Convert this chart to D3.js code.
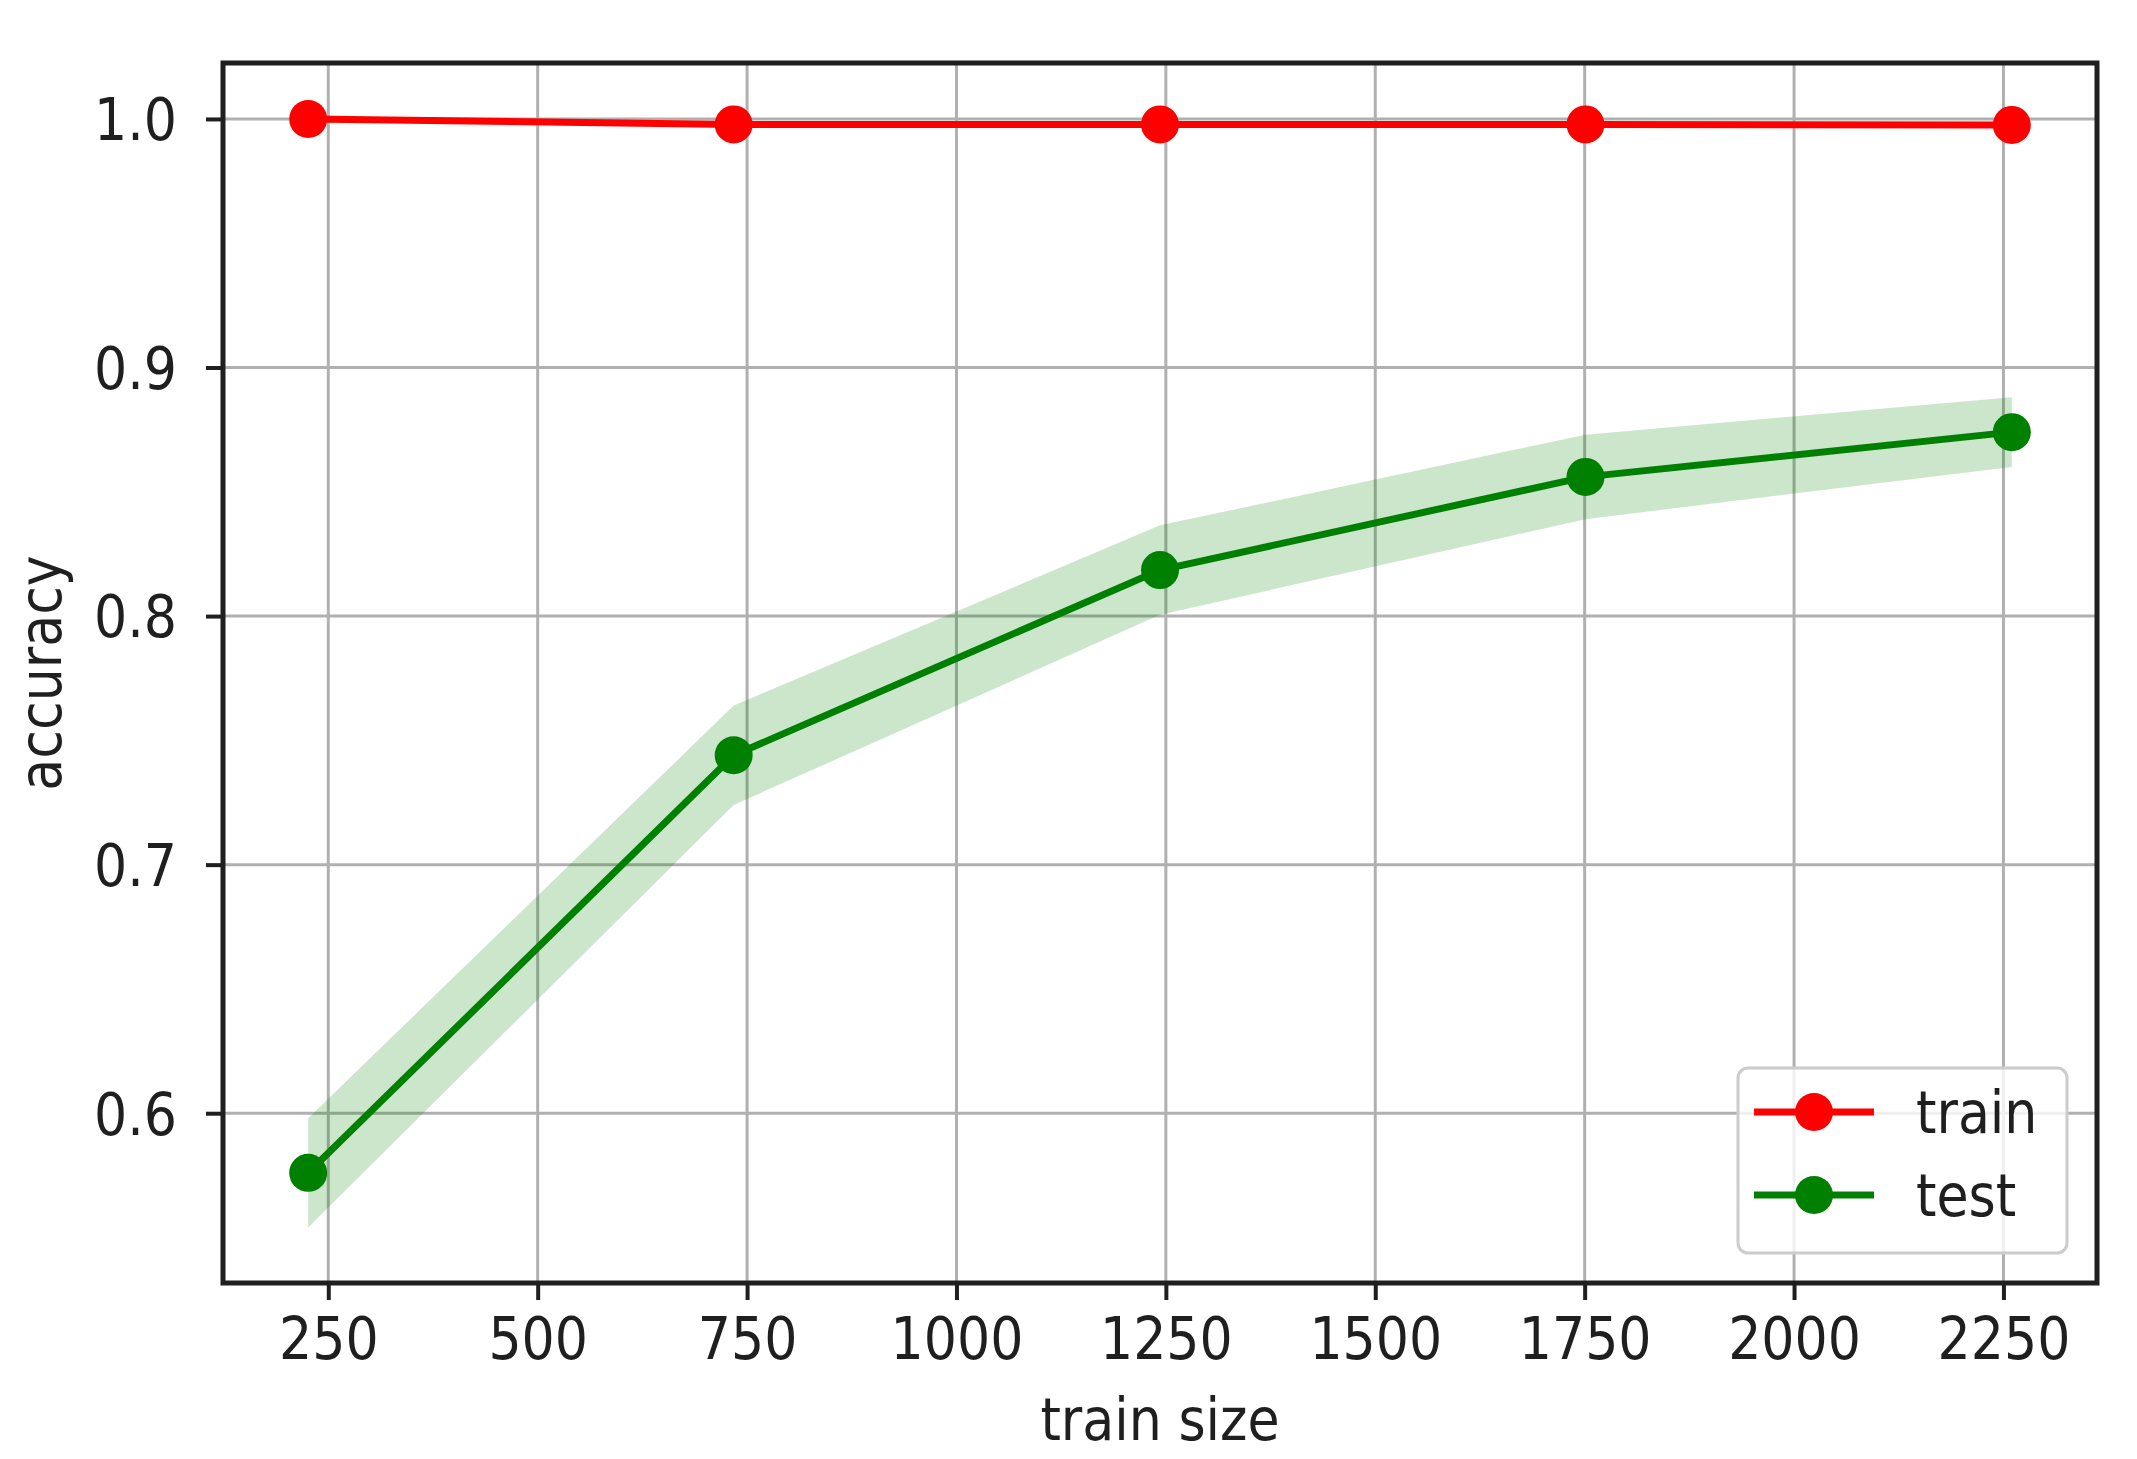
<!DOCTYPE html>
<html>
<head>
<meta charset="utf-8">
<style>
  body { margin: 0; background: #fff; }
  text { font-family: "DejaVu Sans Condensed", "DejaVu Sans", sans-serif; fill: #1f1f1f; }
</style>
</head>
<body>
<div id="chart"></div>
<script src="https://cdnjs.cloudflare.com/ajax/libs/d3/7.8.5/d3.min.js"></script>
<script>
  // learning curve values
  const trainSizes = [226, 734, 1243, 1751, 2260];
  const trainMean = [1.0, 0.9978, 0.9978, 0.9978, 0.9976];
  const trainStd = [0.0002, 0.0008, 0.0006, 0.0005, 0.0006];
  const testMean = [0.576, 0.744, 0.8185, 0.856, 0.874];
  const testStd = [0.022, 0.020, 0.018, 0.017, 0.014];
  const xTicks = [250, 500, 750, 1000, 1250, 1500, 1750, 2000, 2250];
  const yTicks = [0.6, 0.7, 0.8, 0.9, 1.0];
  const seriesNames = ["train", "test"];
  const seriesColors = ["#ff0000", "#008000"];

  const width = 2137;
  const height = 1459;
  const margin = {top: 63, right: 40, bottom: 176, left: 223};
  const fontSize = 58;

  const series = [
    {name: seriesNames[0], color: seriesColors[0],
     values: trainSizes.map((x, i) => ({x, m: trainMean[i], s: trainStd[i]}))},
    {name: seriesNames[1], color: seriesColors[1],
     values: trainSizes.map((x, i) => ({x, m: testMean[i], s: testStd[i]}))}
  ];

  // matplotlib style 5% margins around the data
  function padded(lo, hi) {
    const p = (hi - lo) * 0.05;
    return [lo - p, hi + p];
  }
  const allLo = d3.min(series, d => d3.min(d.values, v => v.m - v.s));
  const allHi = d3.max(series, d => d3.max(d.values, v => v.m + v.s));

  const x = d3.scaleLinear()
    .domain(padded(d3.min(trainSizes), d3.max(trainSizes)))
    .range([margin.left, width - margin.right]);
  const y = d3.scaleLinear()
    .domain(padded(allLo, allHi))
    .range([height - margin.bottom, margin.top]);

  const svg = d3.create("svg")
    .attr("width", width)
    .attr("height", height)
    .attr("viewBox", [0, 0, width, height]);

  svg.append("rect").attr("width", width).attr("height", height).attr("fill", "#fff");

  // grid
  const grid = svg.append("g").attr("stroke", "#b0b0b0").attr("stroke-width", 3);
  grid.selectAll(".vx").data(xTicks).join("line")
    .attr("x1", d => x(d)).attr("x2", d => x(d))
    .attr("y1", margin.top).attr("y2", height - margin.bottom);
  grid.selectAll(".hy").data(yTicks).join("line")
    .attr("y1", d => y(d)).attr("y2", d => y(d))
    .attr("x1", margin.left).attr("x2", width - margin.right);

  // std bands
  const area = d3.area()
    .x(d => x(d.x))
    .y0(d => y(d.m - d.s))
    .y1(d => y(d.m + d.s));
  svg.append("g").selectAll("path").data(series).join("path")
    .attr("d", d => area(d.values))
    .attr("fill", d => d.color)
    .attr("fill-opacity", 0.2);

  // mean lines + markers
  const line = d3.line().x(d => x(d.x)).y(d => y(d.m));
  const sg = svg.append("g").selectAll("g").data(series).join("g");
  sg.append("path")
    .attr("d", d => line(d.values))
    .attr("fill", "none")
    .attr("stroke", d => d.color)
    .attr("stroke-width", 7);
  sg.selectAll("circle").data(d => d.values.map(v => ({...v, color: d.color}))).join("circle")
    .attr("cx", d => x(d.x))
    .attr("cy", d => y(d.m))
    .attr("r", 19)
    .attr("fill", d => d.color);

  // axes
  const xAxis = svg.append("g")
    .attr("transform", `translate(0,${height - margin.bottom})`)
    .call(d3.axisBottom(x).tickValues(xTicks).tickSize(17).tickPadding(18).tickFormat(d3.format("d")));
  const yAxis = svg.append("g")
    .attr("transform", `translate(${margin.left},0)`)
    .call(d3.axisLeft(y).tickValues(yTicks).tickSize(17).tickPadding(29).tickFormat(d3.format(".1f")));
  [xAxis, yAxis].forEach(a => {
    a.select(".domain").remove();
    a.selectAll(".tick line").attr("stroke", "#1f1f1f").attr("stroke-width", 4);
    a.selectAll(".tick text").attr("font-size", fontSize).attr("font-family", null).attr("fill", "#1f1f1f");
  });
  yAxis.selectAll(".tick text").attr("dy", "0.36em");

  // frame
  svg.append("rect")
    .attr("x", margin.left).attr("y", margin.top)
    .attr("width", width - margin.left - margin.right)
    .attr("height", height - margin.top - margin.bottom)
    .attr("fill", "none")
    .attr("stroke", "#1f1f1f")
    .attr("stroke-width", 5);

  // axis titles
  svg.append("text")
    .attr("x", (margin.left + width - margin.right) / 2)
    .attr("y", 1440)
    .attr("text-anchor", "middle")
    .attr("font-size", fontSize)
    .text("train size");
  svg.append("text")
    .attr("transform", `translate(61,${(margin.top + height - margin.bottom) / 2}) rotate(-90)`)
    .attr("text-anchor", "middle")
    .attr("font-size", fontSize)
    .text("accuracy");

  // legend, lower right
  const legend = svg.append("g").attr("transform", "translate(1738,1068)");
  legend.append("rect")
    .attr("width", 329).attr("height", 185)
    .attr("rx", 10)
    .attr("fill", "#fff").attr("fill-opacity", 0.8)
    .attr("stroke", "#cccccc").attr("stroke-width", 3);
  const item = legend.selectAll(".item").data(series).join("g")
    .attr("transform", (d, i) => `translate(0,${44 + i * 83})`);
  item.append("line")
    .attr("x1", 16).attr("x2", 136)
    .attr("stroke", d => d.color).attr("stroke-width", 7);
  item.append("circle")
    .attr("cx", 76).attr("r", 19)
    .attr("fill", d => d.color);
  item.append("text")
    .attr("x", 178).attr("dy", "0.36em")
    .attr("font-size", fontSize)
    .text(d => d.name);

  d3.select("#chart").node().appendChild(svg.node());
</script>
</body>
</html>
